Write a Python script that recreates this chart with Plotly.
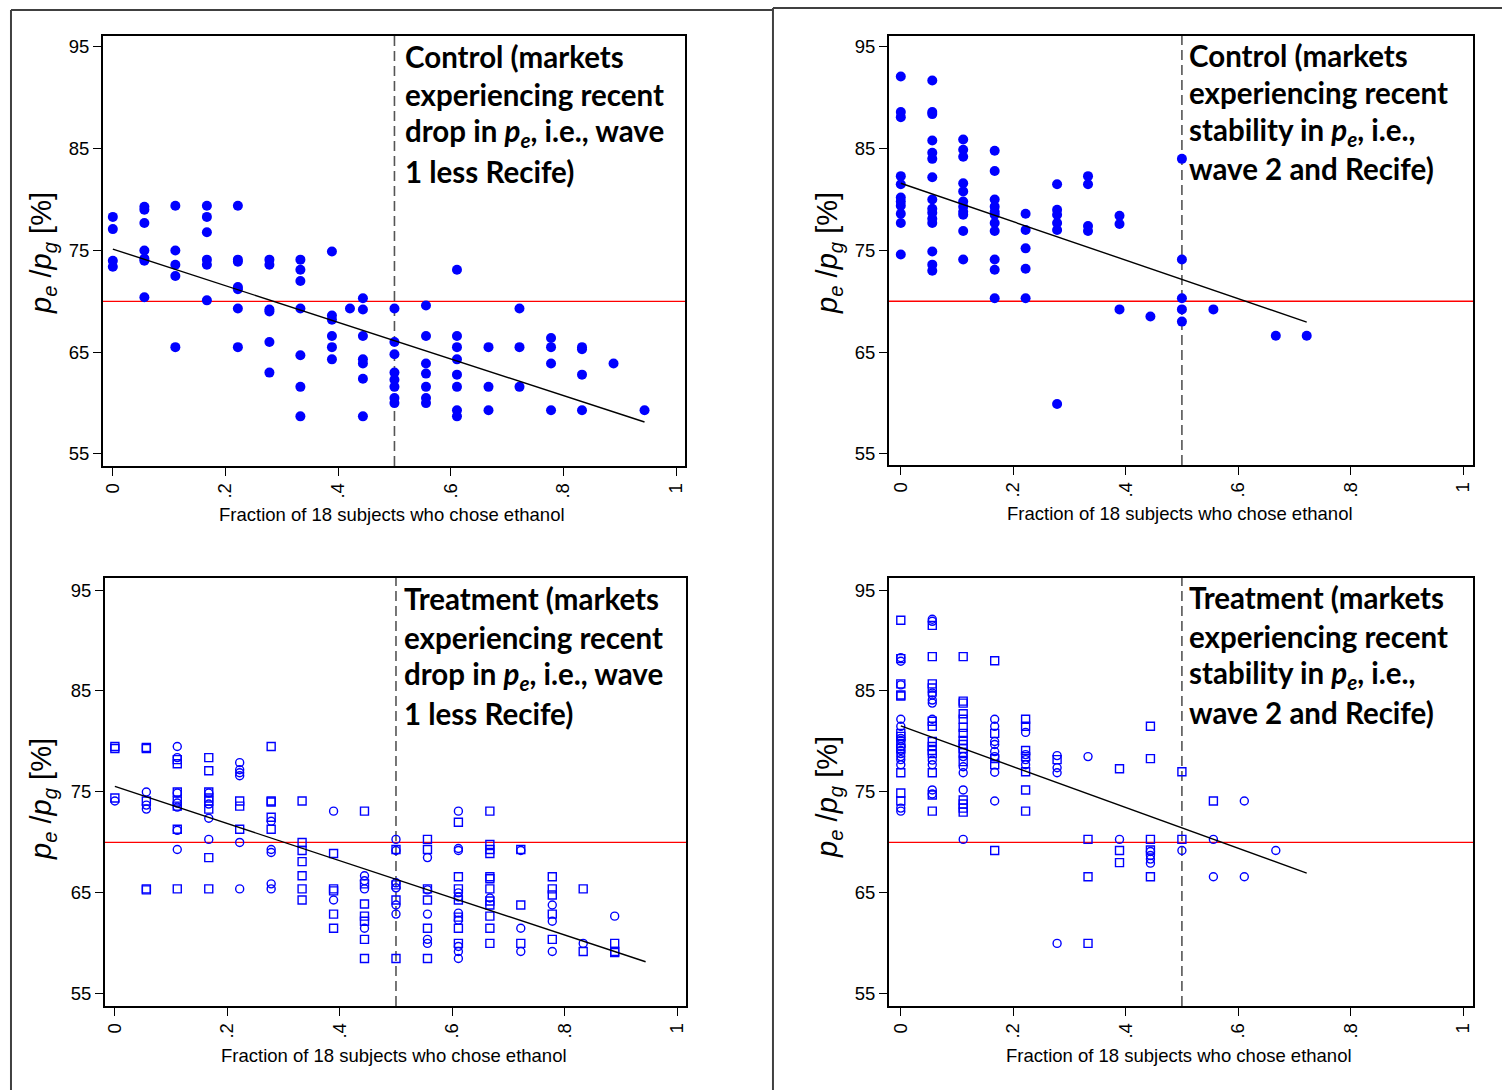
import plotly.graph_objects as go

W, H = 1503, 1090

# ---------------- data ----------------
# x: fraction of the 18 subjects who chose ethanol, y: pe/pg in percent

# Control, wave 1 less Recife (recent drop in pe)
ctrl_drop_x = [
    0, 0, 0, 0,
    .056, .056, .056, .056, .056, .056, .056,
    .111, .111, .111, .111, .111,
    .167, .167, .167, .167, .167, .167,
    .222, .222, .222, .222, .222, .222, .222,
    .278, .278, .278, .278, .278, .278,
    .333, .333, .333, .333, .333, .333, .333,
    .389, .389, .389, .389, .389, .389,
    .421,
    .444, .444, .444, .444, .444, .444, .444,
    .5, .5, .5, .5, .5, .5, .5, .5,
    .556, .556, .556, .556, .556, .556, .556,
    .611, .611, .611, .611, .611, .611, .611, .611,
    .667, .667, .667,
    .722, .722, .722,
    .778, .778, .778, .778,
    .833, .833, .833, .833,
    .889,
    .944,
]
ctrl_drop_y = [
    78.3, 77.1, 74.0, 73.4,
    79.3, 79.0, 77.7, 75.0, 74.2, 74.0, 70.4,
    79.4, 75.0, 73.6, 72.5, 65.5,
    79.4, 78.3, 76.8, 74.1, 73.6, 70.1,
    79.4, 74.1, 73.9, 71.4, 71.2, 69.3, 65.5,
    74.1, 73.6, 69.2, 69.0, 66.0, 63.0,
    74.1, 73.1, 72.0, 69.3, 64.7, 61.6, 58.7,
    74.9, 68.6, 68.2, 66.6, 65.5, 64.3,
    69.3,
    70.3, 69.2, 66.6, 64.3, 63.9, 62.4, 58.7,
    69.3, 66.0, 64.8, 63.0, 62.3, 61.6, 60.5, 60.0,
    69.6, 66.6, 63.9, 62.9, 61.6, 60.5, 60.0,
    73.1, 66.6, 65.5, 64.3, 62.8, 61.6, 59.3, 58.7,
    65.5, 61.6, 59.3,
    69.3, 65.5, 61.6,
    66.4, 65.5, 63.9, 59.3,
    65.5, 65.3, 62.8, 59.3,
    63.9,
    59.3,
]

# Control, wave 2 and Recife (recent stability in pe)
ctrl_stab_x = [
    0, 0, 0, 0, 0, 0, 0, 0, 0, 0, 0,
    .056, .056, .056, .056, .056, .056, .056, .056, .056, .056, .056, .056, .056, .056, .056,
    .111, .111, .111, .111, .111, .111, .111, .111, .111, .111, .111,
    .167, .167, .167, .167, .167, .167, .167, .167, .167, .167, .167,
    .222, .222, .222, .222, .222,
    .278, .278, .278, .278, .278, .278,
    .333, .333, .333, .333,
    .389, .389, .389,
    .444,
    .5, .5, .5, .5, .5,
    .556,
    .667,
    .722,
]
ctrl_stab_y = [
    92.1, 88.6, 88.1, 82.3, 81.5, 80.2, 79.8, 79.4, 78.6, 77.7, 74.6,
    91.7, 88.6, 88.4, 85.8, 84.6, 84.0, 82.2, 80.0, 79.1, 78.7, 78.1, 77.7, 74.9, 73.6, 73.0,
    85.9, 84.9, 84.2, 81.6, 80.8, 79.8, 79.3, 78.8, 78.5, 76.9, 74.1,
    84.8, 82.8, 80.0, 79.3, 78.8, 78.5, 77.7, 76.9, 74.1, 73.1, 70.3,
    78.6, 77.0, 75.2, 73.2, 70.3,
    81.5, 79.0, 78.5, 77.7, 77.0, 59.9,
    82.3, 81.5, 77.4, 76.9,
    78.4, 77.6, 69.2,
    68.5,
    84.0, 74.1, 70.3, 69.2, 68.0,
    69.2,
    66.6,
    66.6,
]

# Treatment, wave 1 less Recife: circles and squares
treat_drop_circ_x = [
    0,
    .056, .056, .056,
    .111, .111, .111, .111, .111, .111, .111,
    .167, .167, .167, .167,
    .222, .222, .222, .222, .222, .222,
    .278, .278, .278, .278, .278,
    .389, .389,
    .444, .444, .444, .444,
    .5, .5, .5, .5, .5, .5,
    .556, .556, .556, .556, .556,
    .611, .611, .611, .611, .611, .611, .611, .611, .611, .611,
    .667,
    .722, .722, .722,
    .778, .778, .778,
    .833,
    .889,
]
treat_drop_circ_y = [
    74.1,
    75.0, 73.7, 73.3,
    79.5, 78.4, 74.9, 73.9, 73.5, 71.2, 69.3,
    74.9, 73.8, 72.4, 70.3,
    77.9, 77.2, 76.9, 76.6, 70.0, 65.4,
    72.1, 69.3, 69.0, 65.9, 65.4,
    73.1, 64.3,
    66.7, 66.2, 65.4, 61.5,
    70.3, 69.2, 66.0, 65.5, 63.8, 62.9,
    68.5, 65.3, 62.9, 60.4, 60.0,
    73.1, 69.4, 69.2, 65.0, 64.6, 63.0, 62.3, 59.7, 59.2, 58.5,
    64.5,
    69.2, 61.5, 59.2,
    63.8, 62.2, 59.2,
    60.0,
    62.7,
]
treat_drop_sq_x = [
    0, 0, 0,
    .056, .056, .056, .056, .056,
    .111, .111, .111, .111, .111, .111, .111,
    .167, .167, .167, .167, .167, .167, .167, .167,
    .222, .222, .222,
    .278, .278, .278, .278, .278,
    .333, .333, .333, .333, .333, .333, .333,
    .389, .389, .389, .389, .389,
    .444, .444, .444, .444, .444, .444, .444,
    .5, .5, .5, .5,
    .556, .556, .556, .556, .556, .556,
    .611, .611, .611, .611, .611, .611, .611,
    .667, .667, .667, .667, .667, .667, .667, .667, .667, .667, .667, .667,
    .722, .722, .722,
    .778, .778, .778, .778, .778,
    .833, .833,
    .889, .889, .889,
]
treat_drop_sq_y = [
    79.5, 79.3, 74.4,
    79.4, 79.3, 74.1, 65.4, 65.3,
    78.2, 77.8, 75.0, 74.1, 73.6, 71.3, 65.4,
    78.4, 77.1, 75.0, 74.4, 74.1, 73.3, 68.5, 65.4,
    74.1, 73.6, 71.3,
    79.5, 74.1, 74.0, 72.5, 71.3,
    74.1, 70.0, 69.2, 68.1, 66.7, 65.4, 64.3,
    68.9, 65.4, 65.2, 62.9, 61.5,
    73.1, 65.9, 63.9, 62.7, 62.2, 60.4, 58.5,
    69.3, 65.8, 64.3, 58.5,
    70.3, 69.3, 65.4, 64.3, 61.5, 58.5,
    72.0, 66.6, 65.4, 64.3, 62.6, 61.5, 60.0,
    73.1, 69.8, 69.3, 68.9, 66.6, 66.4, 65.4, 64.2, 63.8, 62.7, 61.5, 60.0,
    69.3, 63.8, 60.0,
    66.6, 65.4, 64.8, 62.9, 60.4,
    65.4, 59.2,
    60.0, 59.2, 59.1,
]

# Treatment, wave 2 and Recife: circles and squares
treat_stab_circ_x = [
    0, 0, 0, 0, 0, 0, 0, 0, 0, 0, 0, 0, 0, 0, 0,
    .056, .056, .056, .056, .056, .056, .056, .056, .056, .056, .056,
    .111, .111, .111, .111, .111,
    .167, .167, .167, .167, .167, .167, .167, .167,
    .222, .222, .222, .222,
    .278, .278, .278, .278,
    .333,
    .389,
    .444, .444, .444, .444,
    .5,
    .556, .556,
    .611, .611,
    .667,
]
treat_stab_circ_y = [
    88.3, 87.95, 85.6, 82.2, 81.5, 80.3, 80.1, 79.5, 79.1, 78.8, 78.5, 78.2, 77.7, 73.4, 73.1,
    92.1, 91.9, 84.8, 84.6, 84.1, 83.8, 82.2, 78.15, 77.7, 75.2, 74.8,
    78.5, 77.5, 76.9, 75.2, 70.3,
    82.2, 81.5, 80.0, 79.7, 79.0, 78.5, 76.95, 74.1,
    80.9, 78.7, 78.2, 77.7,
    78.6, 77.4, 76.9, 60.0,
    78.5,
    70.3,
    69.1, 68.7, 68.35, 67.95,
    69.2,
    70.3, 66.6,
    74.1, 66.6,
    69.2,
]
treat_stab_sq_x = [
    0, 0, 0, 0, 0, 0, 0, 0, 0, 0, 0, 0,
    .056, .056, .056, .056, .056, .056, .056, .056, .056, .056, .056, .056, .056,
    .111, .111, .111, .111, .111, .111, .111, .111, .111, .111, .111, .111, .111, .111, .111, .111,
    .167, .167, .167, .167, .167,
    .222, .222, .222, .222, .222, .222, .222,
    .278,
    .333, .333, .333,
    .389, .389, .389,
    .444, .444, .444, .444, .444,
    .5, .5,
    .556,
]
treat_stab_sq_y = [
    92.0, 88.2, 85.7, 84.6, 84.5, 80.8, 80.5, 79.8, 79.3, 76.9, 74.9, 74.1,
    91.5, 88.4, 85.7, 85.3, 82.0, 81.5, 80.0, 79.5, 79.1, 78.8, 76.9, 74.7, 73.1,
    88.4, 84.0, 83.8, 82.75, 82.2, 81.4, 80.8, 80.1, 79.7, 79.3, 78.9, 78.0, 74.2, 73.8, 73.4, 73.0,
    88.0, 80.8, 78.3, 77.7, 69.2,
    82.2, 81.5, 79.1, 78.5, 77.0, 75.2, 73.1,
    78.2,
    70.3, 66.6, 60.0,
    77.3, 69.2, 68.0,
    81.5, 78.3, 70.3, 69.25, 66.6,
    77.0, 70.3,
    74.1,
]

# linear fits: intercept, slope, and x span of each fitted line
fit_intercept = [75.14, 81.6, 75.55, 81.54]
fit_slope = [-18.0, -18.9, -18.4, -20.2]
fit_span = [(0, .944), (0, .722), (0, .944), (0, .722)]

x_tick_vals = [0, .2, .4, .6, .8, 1]
x_tick_text = ["0", ".2", ".4", ".6", ".8", "1"]
y_tick_vals = [55, 65, 75, 85, 95]
y_tick_text = ["55", "65", "75", "85", "95"]

reference_share = 70   # pe/pg parity level, %
half_share = .5

x_title = "Fraction of 18 subjects who chose ethanol"
y_title = "<i>p<sub>e</sub></i> /<i>p<sub>g</sub></i> [%]"

panel_text = [
    ["Control (markets", "experiencing recent",
     "drop in <i>p<sub>e</sub></i>, i.e., wave", "1 less Recife)"],
    ["Control (markets", "experiencing recent",
     "stability in <i>p<sub>e</sub></i>, i.e.,", "wave 2 and Recife)"],
    ["Treatment (markets", "experiencing recent",
     "drop in <i>p<sub>e</sub></i>, i.e., wave", "1 less Recife)"],
    ["Treatment (markets", "experiencing recent",
     "stability in <i>p<sub>e</sub></i>, i.e.,", "wave 2 and Recife)"],
]

# ---------------- layout geometry (pixels) ----------------
# plot-area boxes: left, right, top, bottom
boxes = [(102, 685, 36, 466), (889, 1474, 36, 465),
         (104, 686, 578, 1006), (889, 1474, 578, 1006)]
x_ranges = [(-0.0177, 1.016), (-0.0213, 1.0178),
            (-0.0178, 1.016), (-0.0213, 1.0178)]
y_ranges = [(53.82, 96.08), (53.90, 96.08),
            (53.80, 96.19), (53.80, 96.19)]
text_left = [403, 1188, 402, 1188]
text_rows = [(56, 94, 133, 171), (55, 93, 131, 169),
             (598, 637, 675, 713), (597, 636, 674, 712)]
ytitle_pos = [(42, 253), (829, 253), (42, 799), (829, 797)]
xtitle_pos = [(392, 514), (1181, 513), (394, 1055), (1180, 1055)]


def px(v):
    return v / W


def py(v):
    return 1 - v / H


BLUE = "#0000ff"
TICK_FONT = dict(family="Liberation Sans, Arial, sans-serif", size=18.5, color="black")

fig = go.Figure()

series = [
    [(ctrl_drop_x, ctrl_drop_y, "circle")],
    [(ctrl_stab_x, ctrl_stab_y, "circle")],
    [(treat_drop_sq_x, treat_drop_sq_y, "square-open"),
     (treat_drop_circ_x, treat_drop_circ_y, "circle-open")],
    [(treat_stab_sq_x, treat_stab_sq_y, "square-open"),
     (treat_stab_circ_x, treat_stab_circ_y, "circle-open")],
]

shapes = []
annotations = []

for i in range(4):
    n = "" if i == 0 else str(i + 1)
    xa, ya = "x" + n, "y" + n
    l, r, t, b = boxes[i]

    for xs, ys, sym in series[i]:
        if sym == "circle":
            marker = dict(symbol=sym, size=10, color=BLUE, line=dict(width=0))
        else:
            marker = dict(symbol=sym, size=8, color=BLUE, line=dict(width=1.4, color=BLUE))
        fig.add_trace(go.Scatter(x=xs, y=ys, mode="markers", marker=marker,
                                 xaxis=xa, yaxis=ya, showlegend=False,
                                 hoverinfo="x+y"))

    x0, x1 = fit_span[i]
    fig.add_trace(go.Scatter(
        x=[x0, x1],
        y=[fit_intercept[i] + fit_slope[i] * x0, fit_intercept[i] + fit_slope[i] * x1],
        mode="lines", line=dict(color="black", width=1.4),
        xaxis=xa, yaxis=ya, showlegend=False, hoverinfo="skip"))

    axis_common = dict(showgrid=False, zeroline=False, showline=True, mirror=True,
                       linecolor="black", linewidth=1.5, ticks="outside",
                       ticklen=8, tickwidth=1.2, tickcolor="black",
                       tickfont=TICK_FONT, fixedrange=True)
    fig.update_layout(**{
        "xaxis" + n: dict(domain=[px(l), px(r)], range=list(x_ranges[i]),
                          anchor=ya, tickmode="array", tickvals=x_tick_vals,
                          ticktext=x_tick_text, tickangle=-90, **axis_common),
        "yaxis" + n: dict(domain=[py(b), py(t)], range=list(y_ranges[i]),
                          anchor=xa, tickmode="array", tickvals=y_tick_vals,
                          ticktext=y_tick_text, **axis_common),
    })

    # red parity line and dashed half-share marker
    shapes.append(dict(type="line", xref=xa + " domain", yref=ya,
                       x0=0, x1=1, y0=reference_share, y1=reference_share,
                       line=dict(color="#ff0000", width=1.3), layer="below"))
    shapes.append(dict(type="line", xref=xa, yref=ya + " domain",
                       x0=half_share, x1=half_share, y0=0, y1=1,
                       line=dict(color="#555555", width=1.6, dash="10px,5px"),
                       layer="below"))

    for row, txt in zip(text_rows[i], panel_text[i]):
        annotations.append(dict(
            text="<b>" + txt + "</b>", x=px(text_left[i]), y=py(row),
            xref="paper", yref="paper", xanchor="left", yanchor="middle",
            showarrow=False,
            font=dict(family="Lato, Carlito, sans-serif", size=29.5, color="black")))

    yx, yy = ytitle_pos[i]
    annotations.append(dict(
        text=y_title, x=px(yx), y=py(yy), xref="paper", yref="paper",
        xanchor="center", yanchor="middle", textangle=-90, showarrow=False,
        font=dict(family="Liberation Sans, Arial, sans-serif", size=29, color="black")))

    tx, ty = xtitle_pos[i]
    annotations.append(dict(
        text=x_title, x=px(tx), y=py(ty), xref="paper", yref="paper",
        xanchor="center", yanchor="middle", showarrow=False,
        font=dict(family="Liberation Sans, Arial, sans-serif", size=18.5, color="black")))

# outer frames around the left and right figure columns
frame = dict(color="#404040", width=2)
for x0, y0, x1, y1 in [(10, 10, 773, 10), (10, 10, 10, 1090), (773, 8, 773, 1090),
                       (773, 8, 1503, 8)]:
    shapes.append(dict(type="line", xref="paper", yref="paper",
                       x0=px(x0), y0=py(y0), x1=px(x1), y1=py(y1), line=frame))

fig.update_layout(width=W, height=H, margin=dict(l=0, r=0, t=0, b=0),
                  paper_bgcolor="white", plot_bgcolor="white",
                  shapes=shapes, annotations=annotations)

fig.write_html("out.html")
